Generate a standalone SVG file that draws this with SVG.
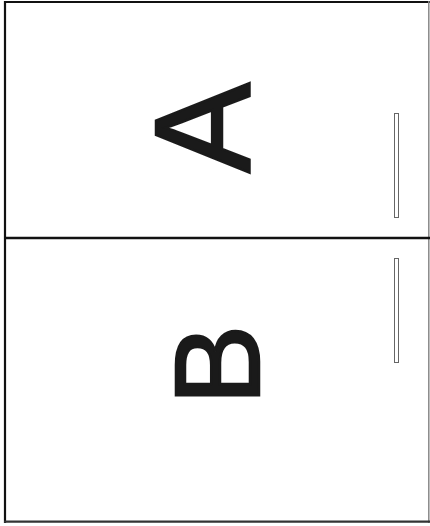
<svg xmlns="http://www.w3.org/2000/svg" width="430" height="526" viewBox="0 0 430 526">
<style>
.handle{fill:#fff;stroke:#666;stroke-width:1}
.lbl{font-family:"Liberation Sans",Arial,sans-serif;fill:#1a1a1a;stroke:#1a1a1a;stroke-width:2.5;stroke-linejoin:miter;text-anchor:middle}
</style>
<rect width="430" height="526" fill="#fff"/>
<g id="frame">
<line x1="5" y1="1" x2="5" y2="523" stroke="#111" stroke-width="2.2"/>
<line x1="4" y1="2" x2="430" y2="2" stroke="#111" stroke-width="2.2"/>
<line x1="428.8" y1="1" x2="428.8" y2="523" stroke="#888" stroke-width="1.5"/>
<line x1="4" y1="521.7" x2="430" y2="521.7" stroke="#333" stroke-width="2.2"/>
</g>
<g id="door-A">
<text class="lbl" font-size="135" transform="translate(249,128) rotate(-90)">A</text>
<rect class="handle" x="394.5" y="113.5" width="4" height="104"/>
</g>
<g id="divider">
<line x1="4" y1="238" x2="430" y2="238" stroke="#111" stroke-width="2.4"/>
</g>
<g id="door-B">
<text class="lbl" font-size="121" transform="translate(259,365) rotate(-90)">B</text>
<rect class="handle" x="394.5" y="258.5" width="4" height="104"/>
</g>
</svg>
